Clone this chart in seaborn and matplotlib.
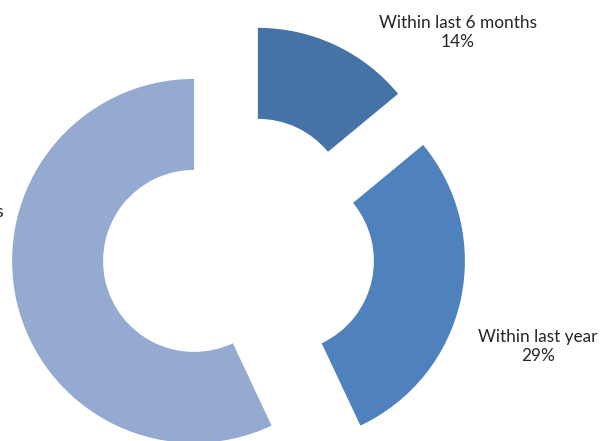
import numpy as np
import matplotlib
matplotlib.use("Agg")
import matplotlib.pyplot as plt
import seaborn as sns

# data
categories = ["Within last 6 months", "Within last year", "More than 12 months"]
shares = [14, 29, 57]
slice_colors = ["#4673a7", "#4f81bd", "#95aad1"]

sns.set_theme(style="white")
plt.rcParams["font.family"] = ["Lato", "DejaVu Sans"]

W, H = 614, 441
R_PX = 182.0                 # outer radius in pixels
CX, CY = 238.5, 251.0        # pie centre in pixels (from top-left)

fig = plt.figure(figsize=(W / 100, H / 100), dpi=100)
ax = fig.add_axes([0, 0, 1, 1])

ax.pie(shares, explode=[0.25] * len(shares), startangle=90, counterclock=False,
       radius=1.0, colors=slice_colors,
       wedgeprops=dict(width=0.5, linewidth=0, antialiased=True))

ax.set_xlim(-CX / R_PX, (W - CX) / R_PX)
ax.set_ylim(-(H - CY) / R_PX, CY / R_PX)
ax.set_aspect("auto")
ax.axis("off")


def px(x, y):
    return (x - CX) / R_PX, (CY - y) / R_PX


# the third label runs off the left edge, as in the original
label_spots = [(457.7, 32.5, "center"), (538.0, 346.5, "center"), (4.0, 221.5, "right")]
for name, val, (lx, ly, ha) in zip(categories, shares, label_spots):
    tx, ty = px(lx, ly)
    ax.text(tx, ty, f"{name}\n{val}%", ha=ha, va="center", multialignment="center",
            fontsize=12.4, color="#262626", linespacing=1.3)

fig.savefig("out.png", dpi=100)
